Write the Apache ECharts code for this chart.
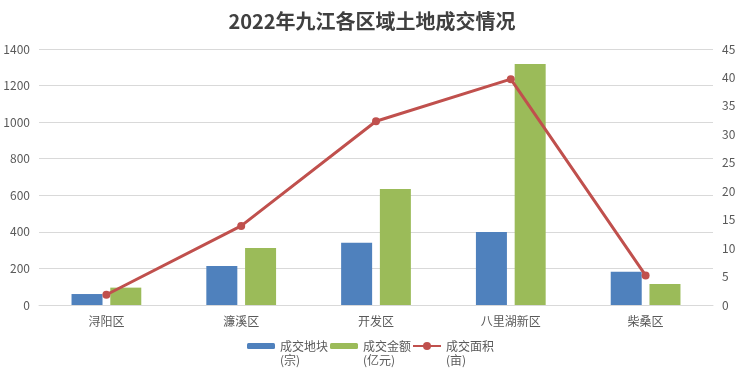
<!DOCTYPE html>
<html>
<head>
<meta charset="utf-8">
<script src="https://cdn.jsdelivr.net/npm/echarts@6/dist/echarts.min.js"></script>
<style>
  html, body { margin: 0; padding: 0; background: #fff; }
  #chart { width: 744px; height: 377px; }
</style>
</head>
<body>
<div id="chart"></div>
<script>
  // 数据
  var categories = ['浔阳区', '濂溪区', '开发区', '八里湖新区', '柴桑区'];
  var landCount = [60, 213, 341, 399, 182];      // 成交地块(宗)
  var landAmount = [95, 312, 634, 1318, 115];    // 成交金额(亿元)
  var landArea = [1.8, 13.9, 32.3, 39.7, 5.2];   // 成交面积(亩)

  var font = '"Noto Sans CJK SC", "Microsoft YaHei", sans-serif';
  var labelColor = '#595959';

  var myChart = echarts.init(document.getElementById('chart'));

  var legendText = {
    fontFamily: font,
    fontSize: 12,
    color: labelColor,
    lineHeight: 14
  };

  // 图例文字第一行与图标对齐
  function legendFormatter(name) {
    return ' \n' + name;
  }

  // 不要千分位
  function plainNum(v) {
    return String(v);
  }

  myChart.setOption({
    animation: false,
    title: {
      text: '2022年九江各区域土地成交情况',
      left: 'center',
      top: 6,
      textStyle: {
        fontFamily: font,
        fontSize: 20,
        fontWeight: 'bold',
        color: '#404040'
      }
    },
    grid: {
      left: 39,
      right: 31,
      top: 49,
      bottom: 72,
      containLabel: false
    },
    legend: [
      {
        left: 247,
        top: 325,
        padding: 0,
        itemGap: 2,
        itemWidth: 28,
        itemHeight: 6,
        data: ['成交地块\n(宗)', '成交金额\n(亿元)'],
        formatter: legendFormatter,
        textStyle: legendText
      },
      {
        left: 412,
        top: 325,
        padding: 0,
        itemWidth: 28,
        itemHeight: 10,
        data: ['成交面积\n(亩)'],
        formatter: legendFormatter,
        textStyle: legendText
      }
    ],
    xAxis: {
      type: 'category',
      data: categories,
      axisLine: { lineStyle: { color: '#d9d9d9', width: 1 } },
      axisTick: { show: false },
      axisLabel: {
        fontFamily: font,
        fontSize: 12,
        color: labelColor,
        margin: 10
      }
    },
    yAxis: [
      {
        type: 'value',
        min: 0,
        max: 1400,
        interval: 200,
        axisLine: { show: false },
        axisTick: { show: false },
        splitLine: { lineStyle: { color: '#d9d9d9' } },
        axisLabel: {
          formatter: plainNum,
          fontFamily: font,
          fontSize: 12,
          color: labelColor,
          margin: 9
        }
      },
      {
        type: 'value',
        min: 0,
        max: 45,
        interval: 5,
        axisLine: { show: false },
        axisTick: { show: false },
        splitLine: { show: false },
        axisLabel: {
          formatter: plainNum,
          fontFamily: font,
          fontSize: 12,
          color: labelColor,
          margin: 9
        }
      }
    ],
    series: [
      {
        name: '成交地块\n(宗)',
        type: 'bar',
        data: landCount,
        barWidth: 31,
        barGap: '25%',
        itemStyle: { color: '#4F81BD' }
      },
      {
        name: '成交金额\n(亿元)',
        type: 'bar',
        data: landAmount,
        barWidth: 31,
        barGap: '25%',
        itemStyle: { color: '#9BBB59' }
      },
      {
        name: '成交面积\n(亩)',
        type: 'line',
        yAxisIndex: 1,
        data: landArea,
        symbol: 'circle',
        symbolSize: 8,
        lineStyle: { color: '#C0504D', width: 3 },
        itemStyle: { color: '#C0504D' }
      }
    ]
  });
</script>
</body>
</html>
